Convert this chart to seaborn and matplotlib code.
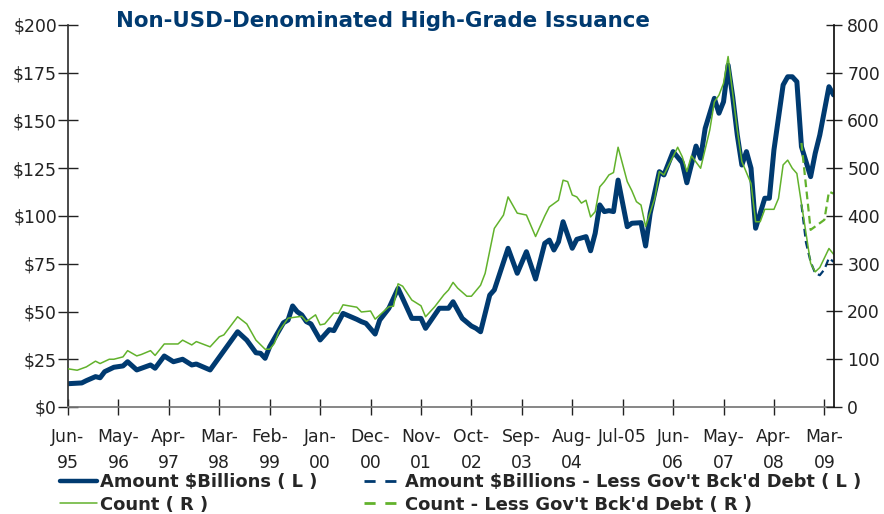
import numpy as np
import pandas as pd
import matplotlib
matplotlib.use("Agg")
import matplotlib.pyplot as plt
from matplotlib.lines import Line2D
import seaborn as sns

# x values are months counted from Jun-95 (0) up to May-09 (167)
amt_month = [0, 3, 4, 6, 7, 8, 10, 12, 13, 15, 18, 19, 21, 23, 25, 27, 28, 31, 37, 39,
             41, 42, 43, 44, 47, 48, 49, 50, 51, 52, 53, 55, 57, 58, 60, 63, 64, 65, 67, 68,
             70, 72, 75, 77, 78, 81, 83, 84, 86, 88, 89, 90, 92, 93, 96, 98, 100, 102, 104, 105,
             106, 107, 108, 110, 111, 113, 114, 115, 116, 117, 118, 119, 120, 122, 123, 125, 126, 127, 129, 130,
             132, 134, 135, 137, 138, 139, 141, 142, 143, 144, 145, 146, 147, 148, 149, 150, 152, 153, 154, 156,
             157, 158, 159, 160, 162, 163, 164, 166, 167]
amt_val = [12.2, 12.6, 13.8, 15.9, 15.3, 18.5, 20.8, 21.5, 23.7, 19.4, 22.0, 20.3, 26.7, 23.7, 25.0, 22.0, 22.5, 19.4, 39.4, 35.0,
           28.4, 28.1, 25.5, 31.6, 44.1, 45.5, 52.9, 49.9, 48.2, 44.7, 43.5, 35.1, 40.5, 40.0, 49.0, 45.9, 44.7, 43.8, 38.2, 45.5,
           51.7, 62.1, 46.4, 46.4, 41.2, 51.7, 51.7, 55.1, 46.4, 42.4, 41.2, 39.4, 58.6, 61.3, 83.1, 70.0, 81.3, 67.0, 85.7, 87.4,
           82.2, 86.5, 97.0, 83.1, 87.8, 89.2, 81.8, 90.9, 105.8, 102.3, 102.8, 102.3, 118.8, 94.4, 96.2, 96.5, 84.3, 101.4, 123.2, 121.5,
           133.7, 127.9, 117.4, 136.6, 130.2, 145.9, 161.6, 153.8, 159.8, 179.0, 162.5, 142.4, 126.7, 133.7, 125.0, 93.6, 109.3, 109.3, 134.6, 168.6,
           172.9, 172.9, 170.3, 136.3, 120.6, 132.8, 142.4, 167.7, 163.4]

cnt_month = [0, 2, 4, 6, 7, 9, 10, 12, 13, 15, 16, 18, 19, 21, 24, 25, 27, 28, 31, 33,
             34, 37, 39, 41, 43, 44, 45, 46, 48, 51, 52, 54, 55, 56, 58, 59, 60, 63, 64, 66,
             67, 70, 71, 72, 73, 75, 77, 78, 80, 82, 83, 84, 85, 87, 88, 90, 91, 93, 95, 96,
             98, 100, 102, 104, 105, 107, 108, 109, 110, 111, 112, 113, 114, 115, 116, 117, 118, 119, 120, 122,
             123, 124, 125, 126, 128, 129, 130, 133, 134, 135, 136, 138, 140, 141, 142, 143, 144, 145, 146, 147,
             149, 150, 151, 152, 154, 155, 156, 157, 158, 159, 160, 162, 163, 164, 166, 167]
cnt_val = [80, 77, 84, 96, 91, 100, 100, 105, 118, 107, 110, 118, 108, 132, 132, 140, 130, 137, 126, 147,
           151, 189, 174, 140, 121, 121, 133, 158, 186, 190, 179, 193, 172, 174, 197, 196, 214, 209, 199, 201,
           184, 210, 211, 258, 253, 224, 212, 189, 210, 235, 245, 261, 249, 232, 232, 255, 280, 374, 402, 440,
           406, 402, 357, 400, 419, 433, 475, 472, 444, 440, 427, 433, 398, 409, 461, 472, 486, 491, 544, 472,
           453, 430, 423, 378, 437, 493, 486, 544, 524, 493, 526, 500, 580, 639, 653, 678, 734, 657, 580, 514,
           468, 388, 388, 414, 414, 437, 507, 517, 500, 489, 426, 301, 283, 292, 332, 320]

amt_less_month = [160, 161, 162, 163, 164, 165, 166, 167]
amt_less_val = [106, 86, 76, 70, 69, 72, 78, 76]

cnt_less_month = [160, 162, 163, 165, 166, 167]
cnt_less_val = [553, 371, 378, 392, 451, 447]

tick_month = [0, 11, 22, 33, 44, 55, 66, 77, 88, 99, 110, 121, 132, 143, 154, 165]
tick_text = ["Jun-\n95", "May-\n96", "Apr-\n97", "Mar-\n98", "Feb-\n99", "Jan-\n00", "Dec-\n00", "Nov-\n01",
             "Oct-\n02", "Sep-\n03", "Aug-\n04", "Jul-05", "Jun-\n06", "May-\n07", "Apr-\n08", "Mar-\n09"]
left_ticks = [0, 25, 50, 75, 100, 125, 150, 175, 200]
left_text = ["$0", "$25", "$50", "$75", "$100", "$125", "$150", "$175", "$200"]
right_ticks = [0, 100, 200, 300, 400, 500, 600, 700, 800]

labels = ["Amount $Billions ( L )", "Count ( R )",
          "Amount $Billions - Less Gov't Bck'd Debt ( L )", "Count - Less Gov't Bck'd Debt ( R )"]

navy = "#003A70"
green = "#62B22C"

sns.set_theme(style="white")
plt.rcParams['font.family'] = ['DejaVu Sans']

fig = plt.figure(figsize=(8.84, 5.14), dpi=100)
ax = fig.add_axes([68/884, 1 - 407/514, (834 - 68)/884, (407 - 25)/514])
ax2 = ax.twinx()

# left axis: amounts
sns.lineplot(x=amt_month, y=amt_val, ax=ax, color=navy, linewidth=3.6, estimator=None)
sns.lineplot(x=amt_less_month, y=amt_less_val, ax=ax, color=navy, linewidth=1.6,
             estimator=None, linestyle=(0, (3.5, 2)))
# right axis: counts
sns.lineplot(x=cnt_month, y=cnt_val, ax=ax2, color=green, linewidth=1.1, estimator=None)
sns.lineplot(x=cnt_less_month, y=cnt_less_val, ax=ax2, color=green, linewidth=1.6,
             estimator=None, linestyle=(0, (3.5, 2)))

ax.set_xlim(0, 167.1)
ax.set_ylim(0, 200)
ax2.set_ylim(0, 800)

ax.set_xticks(tick_month)
ax.set_xticklabels(tick_text, fontsize=12.4, color="#222222")
for lbl in ax.get_xticklabels():
    lbl.set_linespacing(1.55)
ax.set_yticks(left_ticks)
ax.set_yticklabels(left_text, fontsize=12.4, color="#222222")
ax2.set_yticks(right_ticks)
ax2.set_yticklabels([str(t) for t in right_ticks], fontsize=12.4, color="#222222")

ax.tick_params(axis="x", bottom=True, direction="inout", length=12, width=1, pad=9, colors="#222222")
ax.tick_params(axis="y", left=True, direction="inout", length=14, width=1, pad=1, colors="#222222")
ax2.tick_params(axis="y", right=True, direction="inout", length=11, width=1, pad=4, colors="#222222")

for a in (ax, ax2):
    a.set_xlabel("")
    a.set_ylabel("")
    a.grid(False)
    a.spines["top"].set_visible(False)
ax.spines["right"].set_visible(False)
ax2.spines["left"].set_visible(False)
ax2.spines["bottom"].set_visible(False)
ax.spines["left"].set_color("#333333")
ax.spines["bottom"].set_color("#777777")
ax2.spines["right"].set_color("#111111")

fig.text(116/884, 1 - 27/514, "Non-USD-Denominated High-Grade Issuance", fontsize=15.4,
         fontweight="bold", color=navy, ha="left", va="baseline")

handles = [Line2D([], [], color=navy, linewidth=3.2),
           Line2D([], [], color=green, linewidth=1.1),
           Line2D([], [], color=navy, linewidth=2.0, linestyle=(0, (4, 3.5))),
           Line2D([], [], color=green, linewidth=2.0, linestyle=(0, (4, 3.5)))]
fig.legend(handles, labels, ncol=2, loc="upper left", bbox_to_anchor=(53/884, 1 - 466/514),
           frameon=False, prop={"weight": "bold", "size": 12.9}, handlelength=2.05,
           handletextpad=0.2, columnspacing=2.6, labelspacing=0.25, borderaxespad=0)

fig.savefig("out.png", dpi=100)
